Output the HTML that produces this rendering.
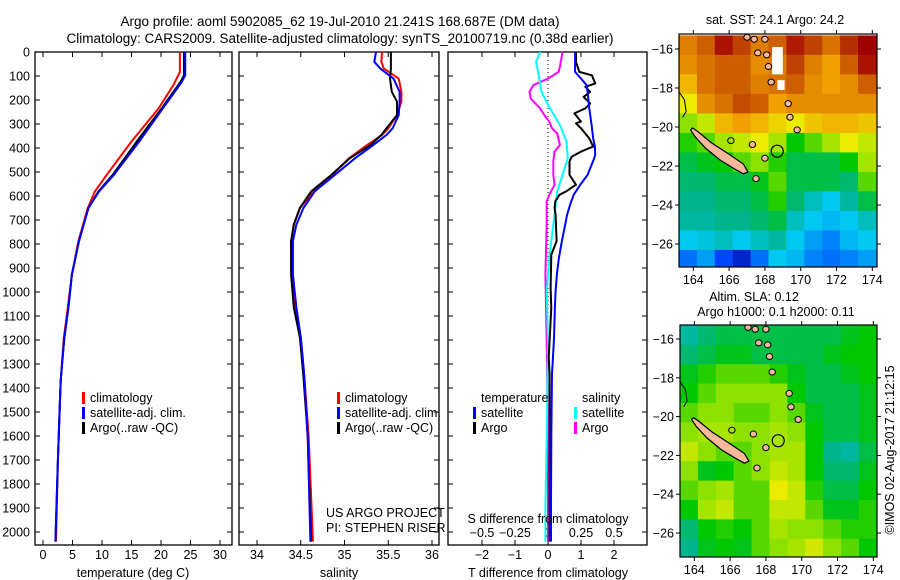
<!DOCTYPE html>
<html><head><meta charset="utf-8"><style>
html,body{margin:0;padding:0;background:#fff;}
svg{display:block;font-family:"Liberation Sans",sans-serif;}
</style></head><body>
<svg id="fig" width="900" height="580" viewBox="0 0 900 580" xmlns="http://www.w3.org/2000/svg">
<g font-size="13.5" text-anchor="middle" fill="#000">
<text x="340" y="26">Argo profile: aoml 5902085_62 19-Jul-2010 21.241S 168.687E (DM data)</text>
<text x="340" y="43">Climatology: CARS2009. Satellite-adjusted climatology: synTS_20100719.nc (0.38d earlier)</text>
</g>
<g id="p1"></g>
<g id="p2"></g>
<g id="p3"></g>
<g id="m1"></g>
<g id="m2"></g>
<text x="0" y="0" font-size="12.5" text-anchor="middle" transform="translate(894,450) rotate(-90)">©IMOS 02-Aug-2017 21:12:15</text>
</svg>
<script>
// ---- data ----
const tempDepth = [0,97,125,235,373,512,581,650,788,927,1065,1196,1369,1507,1715,2040];
const tempSat   = [24.1,24.1,23.5,20.3,16.3,12.0,9.5,7.7,6.1,4.9,4.3,3.6,3.0,2.8,2.5,2.1];
const tempArgo  = [23.9,23.9,23.3,20.1,15.9,11.8,9.4,7.7,6.1,4.9,4.3,3.6,3.0,2.8,2.5,2.1];
const tempClimDepth = [0,83,138,235,373,512,581,650,788,927,1065,1196,1369,1507,1715,2040];
const tempClim  = [23.2,23.2,22.1,19.6,15.0,10.8,8.8,7.6,6.0,4.9,4.2,3.5,3.0,2.8,2.5,2.2];

const salDepth = [0,41,69,111,166,207,263,318,346,387,443,512,581,650,719,788,927,1065,1189,1350,1600,2040];
const salArgo  = [35.53,35.53,35.53,35.52,35.54,35.60,35.60,35.48,35.42,35.30,35.06,34.85,34.62,34.49,34.42,34.39,34.39,34.42,34.49,34.53,34.58,34.62];
const salSat   = [35.36,35.34,35.41,35.56,35.63,35.63,35.62,35.55,35.48,35.33,35.12,34.89,34.66,34.53,34.45,34.41,34.41,34.45,34.50,34.54,34.58,34.61];
const salClim  = [35.43,35.42,35.45,35.62,35.65,35.65,35.60,35.50,35.43,35.26,35.05,34.86,34.65,34.49,34.42,34.39,34.40,34.43,34.50,34.54,34.59,34.64];

const dTDepth  = [0,41,83,111,138,166,235,304,360,394,429,443,512,553,567,595,636,678,719,788,858,927,996,1065,1203,1342,1480,1618,1895,2040];
const dTSat    = [0.82,0.82,0.82,1.0,1.17,1.2,1.25,1.32,1.37,1.42,1.43,1.40,1.20,0.98,0.91,0.78,0.67,0.58,0.52,0.42,0.33,0.27,0.23,0.21,0.18,0.12,0.11,0.10,0.09,0.09];
const dTArgoDepth = [0,41,83,97,131,145,166,187,214,235,256,290,297,318,360,394,415,436,456,512,553,581,595,622,650,678,788,844,982,1065,1203,1273,1342,1452,2040];
const dTArgo   = [0.85,0.85,0.95,1.33,1.43,1.13,1.28,1.08,1.28,1.13,0.80,1.00,0.85,1.00,1.25,1.37,1.0,0.72,0.65,0.65,0.85,0.55,0.35,0.22,0.20,0.23,0.26,0.10,0.08,0.10,0.05,0.02,0.05,0.05,0.05];
const dSDepth  = [0,41,97,166,235,304,373,443,512,581,719,858,996,1203,1618,1895,2040];
const dSSat    = [-0.06,-0.09,-0.07,-0.05,0.015,0.09,0.14,0.15,0.11,0.07,0.04,0.01,-0.01,0.0,-0.01,-0.02,-0.02];
const dSArgoDepth = [0,62,83,111,138,166,194,235,277,290,318,339,387,415,456,512,553,595,622,719,927,1203,1618,1895,2040];
const dSArgo   = [0.11,0.09,0.08,0.0,-0.11,-0.14,-0.13,-0.06,-0.01,0.01,0.03,0.07,0.09,0.05,0.04,0.04,0.05,0.01,-0.01,-0.01,-0.02,-0.01,0.0,0.0,0.0];

const depthTicks = [0,100,200,300,400,500,600,700,800,900,1000,1100,1200,1300,1400,1500,1600,1700,1800,1900,2000];
const tempTicks = [0,5,10,15,20,25,30];
const salTicks = [34,34.5,35,35.5,36];
const salTickLabels = ["34","34.5","35","35.5","36"];
const dTTicks = [-2,-1,0,1,2];
const dSTicks = [-0.5,-0.25,0,0.25,0.5];
const dSTickLabels = ["\u22120.5","\u22120.25","0","0.25","0.5"];

const mapLon = [163.7,164.7,165.7,166.7,167.7,168.7,169.7,170.7,171.7,172.7,173.7];
const mapLat = [-15.8,-16.8,-17.8,-18.8,-19.8,-20.8,-21.8,-22.8,-23.8,-24.8,-25.8,-26.8];
const sstGrid = [
[.80,.85,.93,.88,.80,.85,.92,.88,.82,.90,.95],
[.78,.82,.85,.85,.78,.80,.88,.80,.75,.85,.93],
[.72,.82,.85,.85,.80,.82,.85,.78,.75,.78,.85],
[.65,.78,.82,.87,.85,.75,.78,.78,.78,.78,.78],
[.58,.62,.72,.75,.72,.68,.65,.70,.72,.72,.70],
[.52,.55,.60,.62,.65,.60,.50,.55,.60,.65,.62],
[.45,.48,.50,.55,.58,.52,.45,.45,.45,.50,.60],
[.42,.42,.45,.45,.48,.55,.45,.45,.45,.42,.55],
[.40,.40,.42,.42,.45,.52,.42,.35,.30,.38,.45],
[.38,.38,.40,.40,.42,.45,.35,.30,.28,.30,.35],
[.30,.32,.35,.30,.35,.38,.30,.25,.22,.28,.30],
[.20,.25,.15,.08,.20,.30,.28,.22,.20,.22,.25]];
const slaGrid = [
[.38,.42,.45,.45,.45,.45,.45,.45,.45,.48,.50],
[.42,.45,.48,.48,.45,.45,.45,.45,.48,.50,.50],
[.48,.52,.55,.55,.55,.52,.48,.45,.45,.48,.50],
[.50,.55,.58,.58,.58,.58,.50,.45,.45,.45,.48],
[.55,.58,.58,.55,.55,.58,.55,.48,.45,.45,.48],
[.58,.60,.60,.58,.58,.60,.58,.50,.45,.45,.48],
[.62,.58,.55,.55,.58,.60,.60,.50,.40,.38,.45],
[.58,.48,.50,.55,.58,.62,.60,.50,.42,.42,.48],
[.55,.58,.60,.55,.55,.65,.62,.52,.45,.45,.50],
[.50,.60,.62,.55,.55,.62,.62,.55,.48,.48,.52],
[.42,.50,.52,.50,.55,.60,.58,.58,.55,.52,.52],
[.40,.48,.50,.48,.55,.58,.60,.63,.58,.55,.50]];
const lonTicks = [164,166,168,170,172,174];
const latTicks = [-16,-18,-20,-22,-24,-26];
const newCaledonia = [[163.95,-20.05],[164.2,-20.2],[165,-20.8],[166,-21.4],[166.8,-21.9],[167.05,-22.3],[166.8,-22.4],[166.3,-22.15],[165.5,-21.7],[164.7,-21.1],[164.1,-20.5],[163.85,-20.15]];
const islandLon = [167.0,167.4,167.6,168.1,168.2,168.35,168.0,169.3,169.4,167.3,168.0,166.1,169.8,167.5];
const islandLat = [-15.4,-15.5,-16.2,-16.3,-16.9,-17.7,-15.5,-18.8,-19.5,-20.9,-21.6,-20.7,-20.15,-22.65];
const floatLon = 168.687, floatLat = -21.241;

// ---- helpers ----
const NS = "http://www.w3.org/2000/svg";
function mk(parent, tag, attrs){ const e=document.createElementNS(NS,tag); for(const k in attrs) e.setAttribute(k,attrs[k]); parent.appendChild(e); return e; }
const yTop=52, yBot=545;
const yD = d => yTop + d*0.24;
const cmapStops = [[0,0,0,140],[0.15,0,70,255],[0.3,0,200,240],[0.4,0,180,140],[0.5,0,200,0],[0.58,140,225,0],[0.65,235,235,0],[0.75,240,160,0],[0.85,205,95,0],[0.95,160,0,0],[1,140,0,0]];
function cmap(v){ v=Math.max(0,Math.min(1,v));
  for(let i=1;i<cmapStops.length;i++){ const a=cmapStops[i-1], b=cmapStops[i];
    if(v<=b[0]){ const t=(v-a[0])/(b[0]-a[0]); return `rgb(${Math.round(a[1]+t*(b[1]-a[1]))},${Math.round(a[2]+t*(b[2]-a[2]))},${Math.round(a[3]+t*(b[3]-a[3]))})`; } }
  return 'rgb(140,0,0)'; }

function panel(id, x0, x1, xmin, xmax){
  const g=document.getElementById(id);
  const xs = v => x0 + (v-xmin)/(xmax-xmin)*(x1-x0);
  return {g, xs, x0, x1};
}
function frame(P, ticks, labels, name){
  const {g,xs,x0,x1}=P;
  const r=mk(g,'rect',{x:x0,y:yTop,width:x1-x0,height:yBot-yTop,fill:'none',stroke:'#000','stroke-width':1.3});
  
  
  depthTicks.forEach(d=>{
    mk(g,'line',{x1:x0,x2:x0+5,y1:yD(d),y2:yD(d),stroke:'#000'});
    mk(g,'line',{x1:x1-5,x2:x1,y1:yD(d),y2:yD(d),stroke:'#000'});
  });
  ticks.forEach((t,i)=>{
    const x=xs(t);
    mk(g,'line',{x1:x,x2:x,y1:yTop,y2:yTop+5,stroke:'#000'});
    mk(g,'line',{x1:x,x2:x,y1:yBot-5,y2:yBot,stroke:'#000'});
    const tx=mk(g,'text',{x:x,y:yBot+14,'font-size':12.5,'text-anchor':'middle'});
    tx.textContent=labels[i];
    
    
  });
}
function line(P, xsFn, vals, depths, color, w, name){
  const pts=vals.map((v,i)=>xsFn(v).toFixed(1)+','+yD(depths[i]).toFixed(1)).join(' ');
  const pl=mk(P.g,'polyline',{points:pts,fill:'none',stroke:color,'stroke-width':w,'stroke-linejoin':'round'});
  
  
}
function txt(g,x,y,s,name,extra){
  const t=mk(g,'text',Object.assign({x:x,y:y,'font-size':12.5},extra||{}));
  t.textContent=s;
  
  
  return t;
}
function legendMark(g,x,y,c){ mk(g,'rect',{x:x,y:y-10,width:3,height:12,fill:c}); }

const svg=document.getElementById('fig');
depthTicks.forEach(d=>{ txt(svg,30,yD(d)+4.5,String(d),'depth-tick-label',{'text-anchor':'end'}); });

// Panel 1
const P1=panel('p1',35,232,(35-43)/5.9,(232-43)/5.9);
frame(P1,tempTicks,tempTicks.map(String),'temperature');
line(P1,P1.xs,tempClim,tempClimDepth,'#ff0000',2,'temp-climatology-line');
line(P1,P1.xs,tempArgo,tempDepth,'#000000',2,'temp-argo-line');
line(P1,P1.xs,tempSat,tempDepth,'#0000ff',2,'temp-satellite-line');
txt(P1.g,133,577,'temperature (deg C)','temperature-axis-title',{'text-anchor':'middle'});
[['#ff0000','climatology'],['#0000ff','satellite-adj. clim.'],['#000000','Argo(..raw -QC)']].forEach((e,i)=>{
  legendMark(P1.g,82,402+i*15,e[0]); txt(P1.g,90,402+i*15,e[1],'temp-legend-entry');
});

// Panel 2
const P2=panel('p2',239,439,34+(239-257)/87.5,34+(439-257)/87.5);
frame(P2,salTicks,salTickLabels,'salinity');
line(P2,P2.xs,salClim,salDepth,'#ff0000',2,'sal-climatology-line');
line(P2,P2.xs,salArgo,salDepth,'#000000',2,'sal-argo-line');
line(P2,P2.xs,salSat,salDepth,'#0000ff',2,'sal-satellite-line');
txt(P2.g,339,577,'salinity','salinity-axis-title',{'text-anchor':'middle'});
[['#ff0000','climatology'],['#0000ff','satellite-adj. clim.'],['#000000','Argo(..raw -QC)']].forEach((e,i)=>{
  legendMark(P2.g,337,402+i*15,e[0]); txt(P2.g,345,402+i*15,e[1],'sal-legend-entry');
});
txt(P2.g,326,517,'US ARGO PROJECT','project-label');
txt(P2.g,326,532,'PI: STEPHEN RISER','pi-label');

// Panel 3
const P3=panel('p3',448,647,(448-548)/33,(647-548)/33);
const xsS = v => P3.xs(v*4);
frame(P3,dTTicks,dTTicks.map(v=>v<0?'\u2212'+(-v):String(v)),'tdiff');
dSTicks.forEach((t,i)=>{ txt(P3.g,xsS(t),537,dSTickLabels[i],'sdiff-tick-label',{'text-anchor':'middle'}); });
mk(P3.g,'line',{x1:P3.xs(0),x2:P3.xs(0),y1:yTop,y2:yBot,stroke:'#000','stroke-dasharray':'1,3'});
line(P3,xsS,dSArgo,dSArgoDepth,'#ff00ff',2,'sdiff-argo-line');
line(P3,xsS,dSSat,dSDepth,'#00ffff',2,'sdiff-satellite-line');
line(P3,P3.xs,dTArgo,dTArgoDepth,'#000000',2,'tdiff-argo-line');
line(P3,P3.xs,dTSat,dTDepth,'#0000ff',2,'tdiff-satellite-line');
txt(P3.g,548,523,'S difference from climatology','sdiff-axis-title',{'text-anchor':'middle'});
txt(P3.g,548,577,'T difference from climatology','tdiff-axis-title',{'text-anchor':'middle'});
txt(P3.g,481,402,'temperature','legend-temperature-header');
txt(P3.g,582,402,'salinity','legend-salinity-header');
[['#0000ff','satellite'],['#000000','Argo']].forEach((e,i)=>{ legendMark(P3.g,473,417+i*15,e[0]); txt(P3.g,481,417+i*15,e[1],'tdiff-legend-entry'); });
[['#00ffff','satellite'],['#ff00ff','Argo']].forEach((e,i)=>{ legendMark(P3.g,574,417+i*15,e[0]); txt(P3.g,582,417+i*15,e[1],'sdiff-legend-entry'); });

// Maps
function map(id, x0,x1,y0,y1, latAt, grid, name, whites){
  const g=document.getElementById(id);
  const lon0=163.2, lonPx=17.9;
  const lx = lon => x0 + (lon-lon0)*lonPx;
  const ly = lat => latAt.y + (latAt.lat-lat)*latAt.px;
  const clip='clip-'+id;
  const cp=mk(mk(g,'defs',{}),'clipPath',{id:clip});
  mk(cp,'rect',{x:x0,y:y0,width:x1-x0,height:y1-y0});
  const cg=mk(g,'g',{'clip-path':`url(#${clip})`});
  grid.forEach((row,i)=>row.forEach((v,j)=>{
    const c=mk(cg,'rect',{x:(lx(mapLon[j]-0.5)).toFixed(1),y:(ly(mapLat[i]+0.5)).toFixed(1),width:lonPx+0.6,height:latAt.px+0.6,fill:cmap(v)});
    
    
  }));
  (whites||[]).forEach(w=>mk(cg,'rect',{x:lx(w[0]),y:ly(w[3]),width:(w[1]-w[0])*lonPx,height:(w[3]-w[2])*latAt.px,fill:'#fff'}));
  const nc=mk(cg,'polygon',{points:newCaledonia.map(p=>lx(p[0]).toFixed(1)+','+ly(p[1]).toFixed(1)).join(' '),fill:'#f7b99a',stroke:'#000','stroke-width':1.2});
  
  
  islandLon.forEach((lo,i)=>{
    const e=mk(cg,'ellipse',{cx:lx(lo),cy:ly(islandLat[i]),rx:3.2,ry:3,fill:i==11?'none':'#f7b99a',stroke:'#000','stroke-width':1});
    
    
  });
  mk(cg,'polyline',{points:`${lx(163.2)},${ly(-18.2)} ${lx(163.5)},${ly(-18.6)} ${lx(163.6)},${ly(-19.2)} ${lx(163.4)},${ly(-19.5)}`,fill:'none',stroke:'#000'});
  const fc=mk(cg,'circle',{cx:lx(floatLon),cy:ly(floatLat),r:6,fill:'none',stroke:'#000','stroke-width':1.2});
  
  
  mk(g,'rect',{x:x0,y:y0,width:x1-x0,height:y1-y0,fill:'none',stroke:'#000','stroke-width':1.2});
  lonTicks.forEach(l=>{ const x=lx(l); mk(g,'line',{x1:x,x2:x,y1:y0,y2:y0-4,stroke:'#000'}); mk(g,'line',{x1:x,x2:x,y1:y1,y2:y1+4,stroke:'#000'});
    txt(g,x,y1+17,String(l),name+'-lon-label',{'text-anchor':'middle'}); });
  latTicks.forEach(l=>{ const y=ly(l); mk(g,'line',{x1:x0-4,x2:x0,y1:y,y2:y,stroke:'#000'}); mk(g,'line',{x1:x1,x2:x1+4,y1:y,y2:y,stroke:'#000'});
    txt(g,x0-6,y+4.5,'\u2212'+(-l),name+'-lat-label',{'text-anchor':'end'}); });
  return g;
}
const g1=map('m1',679,877,34,267,{lat:-16,y:49,px:19.5},sstGrid,'sst-map',[[168.4,169.0,-17.3,-15.9],[168.7,169.1,-18.1,-17.6]]);
txt(g1,775,24,'sat. SST: 24.1 Argo: 24.2','sst-map-title',{'text-anchor':'middle'});
const g2=map('m2',680,877,325,557,{lat:-16,y:339,px:19.4},slaGrid,'sla-map',[]);
txt(g2,754,301,'Altim. SLA: 0.12','sla-map-title',{'text-anchor':'middle'});
txt(g2,776,316,'Argo h1000: 0.1 h2000: 0.11','sla-map-subtitle',{'text-anchor':'middle'});
</script>
</body></html>
